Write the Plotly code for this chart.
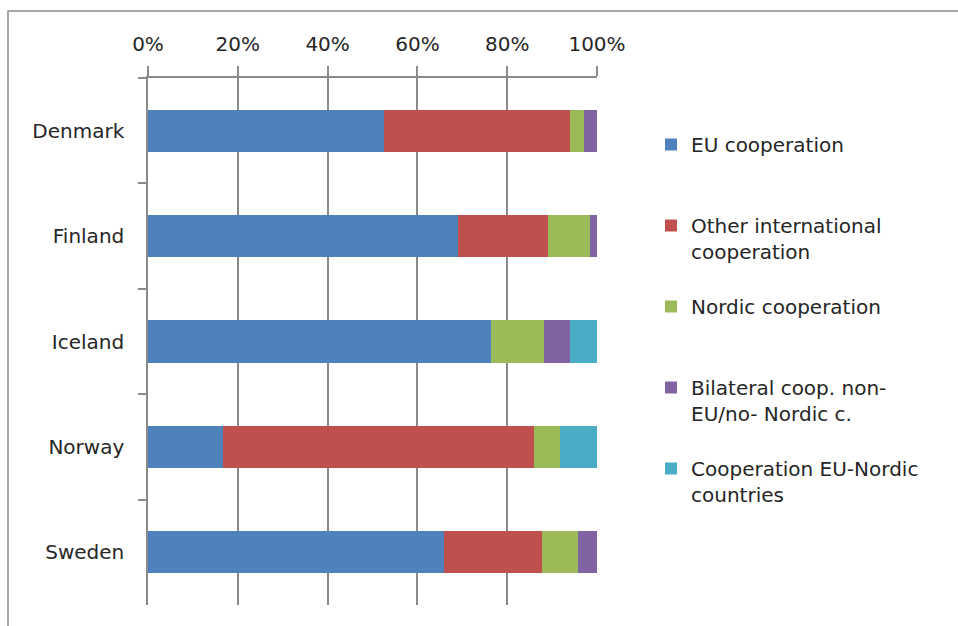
import plotly.graph_objects as go

countries = ["Denmark", "Finland", "Iceland", "Norway", "Sweden"]
series_names = [
    "EU cooperation<br> ",
    "Other international<br>cooperation",
    "Nordic cooperation<br> ",
    "Bilateral coop. non-<br>EU/no- Nordic c.",
    "Cooperation EU-Nordic<br>countries",
]
eu_coop = [52.6, 69.0, 76.5, 16.8, 65.9]
other_intl = [41.4, 20.0, 0.0, 69.2, 21.8]
nordic = [3.1, 9.4, 11.6, 5.8, 8.1]
bilateral = [2.9, 1.6, 5.9, 0.0, 4.2]
eu_nordic = [0.0, 0.0, 6.0, 8.2, 0.0]
colors = ["#4F81BD", "#C0504D", "#9BBB59", "#8064A2", "#4BACC6"]
tick_vals = [0, 20, 40, 60, 80, 100]
tick_labels = ["0%", "20%", "40%", "60%", "80%", "100%"]

series = [eu_coop, other_intl, nordic, bilateral, eu_nordic]

fig = go.Figure()
for i, (name, vals, col) in enumerate(zip(series_names, series, colors)):
    fig.add_trace(go.Bar(
        y=countries, x=vals, name=name, orientation="h",
        marker=dict(color=col, line=dict(width=0)),
        legendgroup=f"g{i}",
    ))

L, R, T, B = 148, 361, 78, 21
W, H = 958, 626
pw, ph = W - L - R, H - T - B

def px_x(px):
    return (px - L) / pw

def px_y(py):
    return (H - B - py) / ph

grey = "#8a8a8a"
txt = "#262626"

fig.update_layout(
    width=W, height=H,
    margin=dict(l=L, r=R, t=T, b=B, pad=0),
    barmode="stack", bargap=0.6,
    paper_bgcolor="white", plot_bgcolor="white",
    font=dict(family="DejaVu Sans", size=20, color=txt),
    xaxis=dict(
        side="top", range=[0, 100], tickvals=tick_vals, ticktext=tick_labels,
        showline=True, linecolor=grey, linewidth=1.5,
        showgrid=True, gridcolor=grey, gridwidth=1.5,
        ticks="outside", ticklen=10, tickcolor=grey, tickwidth=1.5,
        ticklabelstandoff=7, zeroline=False, fixedrange=True,
    ),
    yaxis=dict(
        autorange="reversed", showline=True, linecolor=grey, linewidth=1.5,
        ticks="outside", ticklen=8, tickcolor=grey, tickwidth=1.5,
        tickson="boundaries", ticklabelstandoff=18, showgrid=False,
    ),
    legend=dict(
        x=px_x(651), y=px_y(125), xanchor="left", yanchor="top",
        traceorder="grouped", tracegroupgap=26, valign="top",
        font=dict(family="DejaVu Sans", size=20, color=txt),
        bgcolor="rgba(0,0,0,0)", itemclick=False,
    ),
    shapes=[dict(
        type="rect", xref="paper", yref="paper",
        x0=px_x(8), x1=px_x(1000), y0=px_y(700), y1=px_y(11),
        line=dict(color=grey, width=1.5), fillcolor="rgba(0,0,0,0)",
    )],
)

fig.write_html("out.html")
